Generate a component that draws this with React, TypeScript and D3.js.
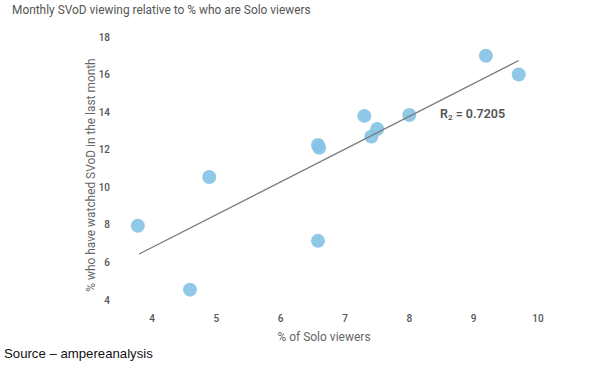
import React from "react";
import * as d3 from "d3";

const soloPct = [3.78, 4.59, 4.89, 6.58, 6.6, 6.58, 7.3, 7.41, 7.5, 8.0, 9.19, 9.7];
const svodPct = [7.95, 4.55, 10.55, 12.25, 12.1, 7.15, 13.8, 12.7, 13.1, 13.85, 17.0, 16.0];
const xTicks = [4, 5, 6, 7, 8, 9, 10];
const yTicks = [4, 6, 8, 10, 12, 14, 16, 18];
const trendX = [3.8, 9.7];
const trendY = [6.45, 16.75];

export default function App() {
  const W = 600, H = 372;
  const x = d3.scaleLinear().domain([4, 10]).range([152, 538]);
  const y = d3.scaleLinear().domain([4, 18]).range([300, 37]);
  const pts = soloPct.map((v, i) => [v, svodPct[i]]);
  const line = d3.line<number>().x((_, i) => x(trendX[i])).y((_, i) => y(trendY[i]));
  const font = "Roboto, 'Open Sans', Arial, sans-serif";
  return (
    <svg width={W} height={H} style={{ position: "absolute", left: 0, top: 0, background: "#fff" }}>
      <text x={12} y={10} dy="0.35em" fontSize={11.9} fill="#555" fontFamily={font}>
        Monthly SVoD viewing relative to % who are Solo viewers
      </text>
      {yTicks.map(t => (
        <text key={t} x={110} y={y(t)} dy="0.35em" textAnchor="end" fontSize={10} fill="#555" fontFamily={font} fontWeight={500}>
          {t}
        </text>
      ))}
      {xTicks.map(t => (
        <text key={t} x={x(t)} y={318} dy="0.35em" textAnchor="middle" fontSize={10} fill="#555" fontFamily={font} fontWeight={500}>
          {t}
        </text>
      ))}
      <text x={324} y={337} dy="0.35em" textAnchor="middle" fontSize={12} fill="#666" fontFamily={font}>
        % of Solo viewers
      </text>
      <text transform={`translate(91,175) rotate(-90)`} textAnchor="middle" dy="0.35em" fontSize={11.9} fill="#666" fontFamily={font}>
        % who have watched SVoD in the last month
      </text>
      {pts.map((p, i) => (
        <circle key={i} cx={x(p[0])} cy={y(p[1])} r={7} fill="#84c3e5" opacity={0.9} />
      ))}
      <path d={line([0, 1]) || ""} stroke="#7a7a7a" strokeWidth={1.3} fill="none" />
      <text x={440} y={114} dy="0.35em" fontSize={12.5} fill="#555" fontFamily={font} fontWeight={600}>
        R<tspan fontSize={8} dy="2">2</tspan><tspan dy="-2"> = 0.7205</tspan>
      </text>
      <text x={4} y={353} dy="0.35em" fontSize={13.2} fill="#111" fontFamily="'Liberation Sans', Arial, sans-serif">
        Source – ampereanalysis
      </text>
    </svg>
  );
}
